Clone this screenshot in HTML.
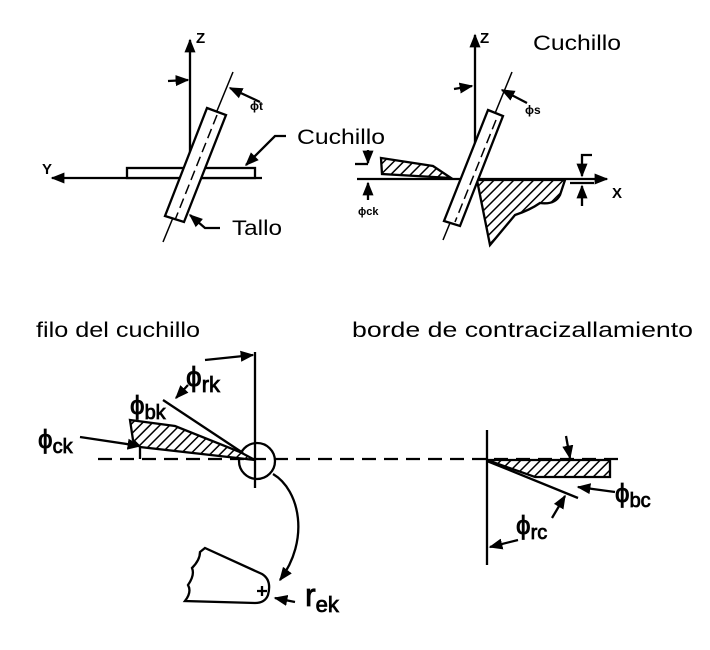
<!DOCTYPE html>
<html><head><meta charset="utf-8"><style>html,body{margin:0;padding:0;background:#fff}svg{display:block}</style></head>
<body>
<svg width="710" height="650" viewBox="0 0 710 650" xmlns="http://www.w3.org/2000/svg">
<defs>
<pattern id="h" patternUnits="userSpaceOnUse" width="7" height="7" patternTransform="rotate(45)">
<rect width="7" height="7" fill="#fff"/><line x1="0" y1="0" x2="0" y2="7" stroke="#000" stroke-width="3"/>
</pattern>
<marker id="a" viewBox="0 0 10 10" refX="9" refY="5" markerWidth="6" markerHeight="6" orient="auto"><path d="M0,1 L10,5 L0,9 z" fill="#000"/></marker>
</defs>
<g stroke="#000" stroke-width="2.3" fill="none" font-family="Liberation Sans, sans-serif">
<!-- top left -->
<line x1="190" y1="180" x2="190" y2="40" marker-end="url(#a)"/>
<text x="196" y="43" stroke="none" fill="#000" font-size="15" font-weight="bold">Z</text>
<line x1="262" y1="178" x2="52" y2="178" marker-end="url(#a)"/>
<text x="42" y="174" stroke="none" fill="#000" font-size="15" font-weight="bold">Y</text>
<rect x="127" y="168" width="128" height="10" fill="#fff"/>
<line x1="233" y1="72" x2="163" y2="242" stroke-width="1.5"/>
<path d="M207,108 L226,115 L184,222 L165,216 Z" fill="#fff"/>
<line x1="217" y1="115" x2="175" y2="220" stroke-dasharray="10,5" stroke-width="1.5"/>
<line x1="168" y1="81" x2="188" y2="80" marker-end="url(#a)"/>
<line x1="260" y1="102" x2="230" y2="88" marker-end="url(#a)"/>
<text x="250" y="110" stroke="none" fill="#000" font-size="12" font-weight="bold">ϕt</text>
<path d="M286,136 L275,136 L246,165" marker-end="url(#a)"/>
<path d="M220,228 L205,228 L190,215" marker-end="url(#a)"/>
<!-- top right -->
<line x1="475" y1="182" x2="475" y2="35" marker-end="url(#a)"/>
<text x="480" y="43" stroke="none" fill="#000" font-size="15" font-weight="bold">Z</text>
<line x1="357" y1="179" x2="607" y2="179" marker-end="url(#a)"/>
<text x="612" y="198" stroke="none" fill="#000" font-size="15" font-weight="bold">X</text>
<path d="M381,158 L433,166 L451,178 L382,174 Z" fill="url(#h)"/>
<path d="M477,180 L565,180 L560,195 Q555,205 540,203 Q530,210 515,215 L490,245 Z" fill="url(#h)"/>
<line x1="512" y1="72" x2="443" y2="240" stroke-width="1.5"/>
<path d="M488,110 L503,116 L460,226 L444,221 Z" fill="#fff"/>
<line x1="496" y1="120" x2="455" y2="222" stroke-dasharray="10,5" stroke-width="1.5"/>
<line x1="454" y1="89" x2="472" y2="86" marker-end="url(#a)"/>
<line x1="527" y1="103" x2="502" y2="90" marker-end="url(#a)"/>
<text x="525" y="114" stroke="none" fill="#000" font-size="12" font-weight="bold">ϕs</text>
<line x1="355" y1="164" x2="368" y2="164"/><line x1="368" y1="150" x2="368" y2="163" marker-end="url(#a)"/>
<line x1="368" y1="200" x2="368" y2="183" marker-end="url(#a)"/>
<text x="358" y="215" stroke="none" fill="#000" font-size="11" font-weight="bold">ϕck</text>
<path d="M592,155 L582,155 L582,176" marker-end="url(#a)"/>
<line x1="570" y1="183" x2="594" y2="183"/>
<line x1="582" y1="206" x2="582" y2="186" marker-end="url(#a)"/>
<!-- bottom left -->
<line x1="255" y1="352" x2="255" y2="488"/>
<line x1="98" y1="459" x2="620" y2="459" stroke-dasharray="14,8"/>
<circle cx="257" cy="461" r="18" fill="none"/>
<path d="M130,420 L175,426 L240,452 L255,460 L140,447 L133,440 Z" fill="url(#h)"/>
<line x1="163" y1="400" x2="243" y2="453"/>
<line x1="205" y1="360" x2="253" y2="355" marker-end="url(#a)"/>
<line x1="188" y1="385" x2="176" y2="398" marker-end="url(#a)"/>
<line x1="80" y1="437" x2="140" y2="446" marker-end="url(#a)"/>
<line x1="140" y1="446" x2="140" y2="459"/>
<path d="M273,474 C300,490 310,540 280,580" marker-end="url(#a)"/>
<path d="M205,548 L262,574 Q272,580 268,595 Q265,603 255,603 L185,601 Q192,592 188,585 Q195,575 192,568 Q200,560 200,552 Z"/>
<path d="M257,591 h10 M262,586 v10"/>
<line x1="295" y1="602" x2="275" y2="598" marker-end="url(#a)"/>
<!-- bottom right -->
<line x1="487" y1="430" x2="487" y2="565"/>
<path d="M487,460 L610,460 L610,477 L535,477 Z" fill="url(#h)"/>
<line x1="487" y1="461" x2="578" y2="498"/>
<line x1="566" y1="436" x2="570" y2="458" marker-end="url(#a)"/>
<line x1="615" y1="492" x2="578" y2="487" marker-end="url(#a)"/>
<line x1="552" y1="518" x2="565" y2="496" marker-end="url(#a)"/>
<line x1="518" y1="540" x2="490" y2="547" marker-end="url(#a)"/>
</g>
<g font-family="Liberation Sans, sans-serif" fill="#000">
<text x="297" y="144" font-size="21" textLength="88" lengthAdjust="spacingAndGlyphs">Cuchillo</text>
<text x="232" y="235" font-size="21" textLength="50" lengthAdjust="spacingAndGlyphs">Tallo</text>
<text x="533" y="50" font-size="21" textLength="88" lengthAdjust="spacingAndGlyphs">Cuchillo</text>
<text x="36" y="337" font-size="21" textLength="164" lengthAdjust="spacingAndGlyphs">filo del cuchillo</text>
<text x="352" y="337" font-size="21" textLength="341" lengthAdjust="spacingAndGlyphs">borde de contracizallamiento</text>
<g stroke="#000" stroke-width="0.8">
<text x="186" y="386" font-size="28">ϕ<tspan font-size="22" dy="6">rk</tspan></text>
<text x="130" y="414" font-size="26">ϕ<tspan font-size="20" dy="5">bk</tspan></text>
<text x="38" y="448" font-size="26">ϕ<tspan font-size="20" dy="5">ck</tspan></text>
<text x="305" y="606" font-size="32">r<tspan font-size="22" dy="6">ek</tspan></text>
<text x="615" y="502" font-size="26">ϕ<tspan font-size="20" dy="5">bc</tspan></text>
<text x="516" y="534" font-size="26">ϕ<tspan font-size="20" dy="5">rc</tspan></text>
</g>
</g>
</svg>
</body></html>
